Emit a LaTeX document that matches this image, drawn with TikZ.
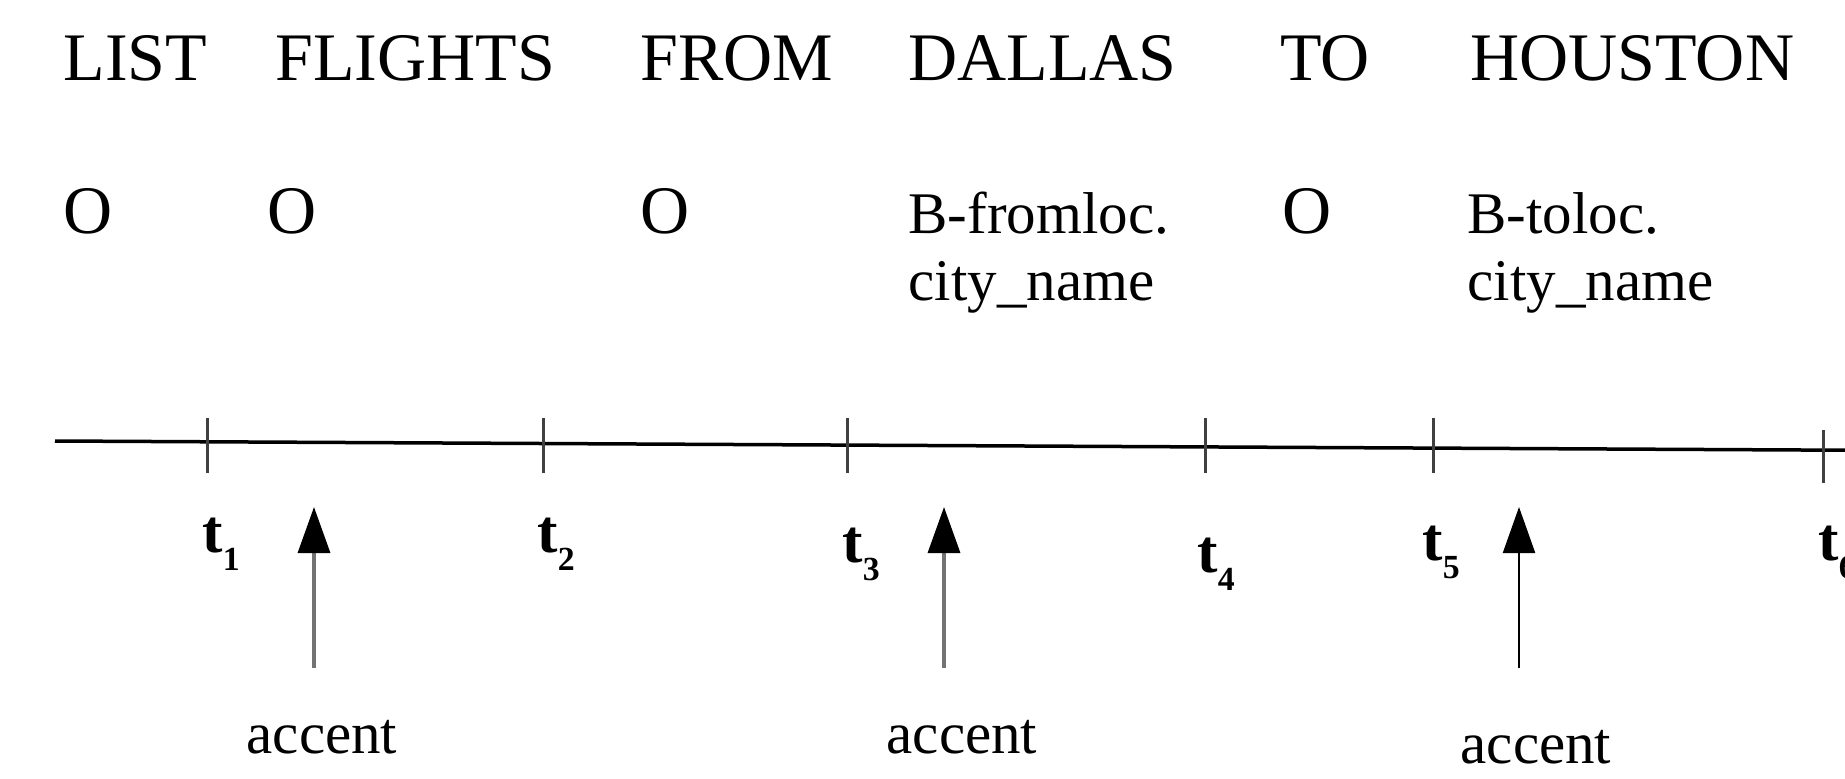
\documentclass[tikz,border=0pt]{standalone}
\usepackage{fontspec}
\setmainfont{Liberation Serif}
\usetikzlibrary{arrows.meta}
\newcommand{\px}{0.4pt}
\newcommand{\tsub}[1]{{\bfseries t}\raisebox{-7.5pt}{\fontsize{13.5}{14}\selectfont\bfseries #1}}

\begin{document}
\begin{tikzpicture}[x=\px, y=-\px,
    word/.style={anchor=base west, inner sep=0pt, font=\fontsize{27.2}{32}\selectfont},
    slot/.style={anchor=base west, inner sep=0pt, font=\fontsize{23.6}{28}\selectfont},
    tlab/.style={anchor=base west, inner sep=0pt, font=\fontsize{24.5}{28}\selectfont},
    acc/.style={anchor=base, inner sep=0pt, font=\fontsize{23.6}{28}\selectfont},
    tick/.style={draw=black!75, line width=1.2pt},
    axis/.style={line width=1.4pt},
    upar/.style={draw=black!55, line width=1.3pt, -{Triangle[width=12.8pt, length=18.4pt, color=black]}}]
    \useasboundingbox (0,0) rectangle (1845,779);
    \clip (0,0) rectangle (1845,779);

    % Words
    \node[word] (w-1) at (63,81) {LIST};
    \node[word] (w-2) at (275,81) {FLIGHTS};
    \node[word] (w-3) at (640,81) {FROM};
    \node[word] (w-4) at (908,81) {DALLAS};
    \node[word] (w-5) at (1280,81) {TO};
    \node[word] (w-6) at (1470,81) {HOUSTON};

    % Slot labels
    \node[word] (s-1) at (63,233) {O};
    \node[word] (s-2) at (267,233) {O};
    \node[word] (s-3) at (640,233) {O};
    \node[slot] (s-4) at (908,233) {B-fromloc.};
    \node[slot] (s-4b) at ([yshift=-26.8pt]s-4.base west) {city\_name};
    \node[word] (s-5) at (1282,233) {O};
    \node[slot] (s-6) at (1467,233) {B-toloc.};
    \node[slot] (s-6b) at ([yshift=-26.8pt]s-6.base west) {city\_name};

    % Time axis
    \coordinate (ax-l) at (55,441);
    \coordinate (ax-r) at (1860,450.3);
    \draw[axis] (ax-l) -- (ax-r);

    \coordinate (tk-1) at (207,418);
    \coordinate (tk-2) at (543,418);
    \coordinate (tk-3) at (847,418);
    \coordinate (tk-4) at (1205,418);
    \coordinate (tk-5) at (1433,418);
    \coordinate (tk-6) at (1823,430);
    \draw[tick] (tk-1) -- ++(0,55);
    \draw[tick] (tk-2) -- ++(0,55);
    \draw[tick] (tk-3) -- ++(0,55);
    \draw[tick] (tk-4) -- ++(0,55);
    \draw[tick] (tk-5) -- ++(0,55);
    \draw[tick] (tk-6) -- ++(0,53);

    \node[tlab] (t-1) at (202,552) {\tsub{1}};
    \node[tlab] (t-2) at (537,552) {\tsub{2}};
    \node[tlab] (t-3) at (842,562) {\tsub{3}};
    \node[tlab] (t-4) at (1197,572) {\tsub{4}};
    \node[tlab] (t-5) at (1422,560) {\tsub{5}};
    \node[tlab] (t-6) at (1818,560) {\tsub{6}};

    % Accents
    \node[acc] (a-1) at (322,753) {accent};
    \node[acc] (a-2) at (962,753) {accent};
    \node[acc] (a-3) at (1536,763) {accent};

    \coordinate (a-1-foot) at (314,668);
    \coordinate (a-1-tip) at (314,507);
    \coordinate (a-2-foot) at (944,668);
    \coordinate (a-2-tip) at (944,507);
    \coordinate (a-3-foot) at (1519,668);
    \coordinate (a-3-tip) at (1519,507);
    \draw[upar] (a-1-foot) -- (a-1-tip);
    \draw[upar] (a-2-foot) -- (a-2-tip);
    \draw[upar, draw=black, line width=0.9pt] (a-3-foot) -- (a-3-tip);

\end{tikzpicture}
\end{document}
